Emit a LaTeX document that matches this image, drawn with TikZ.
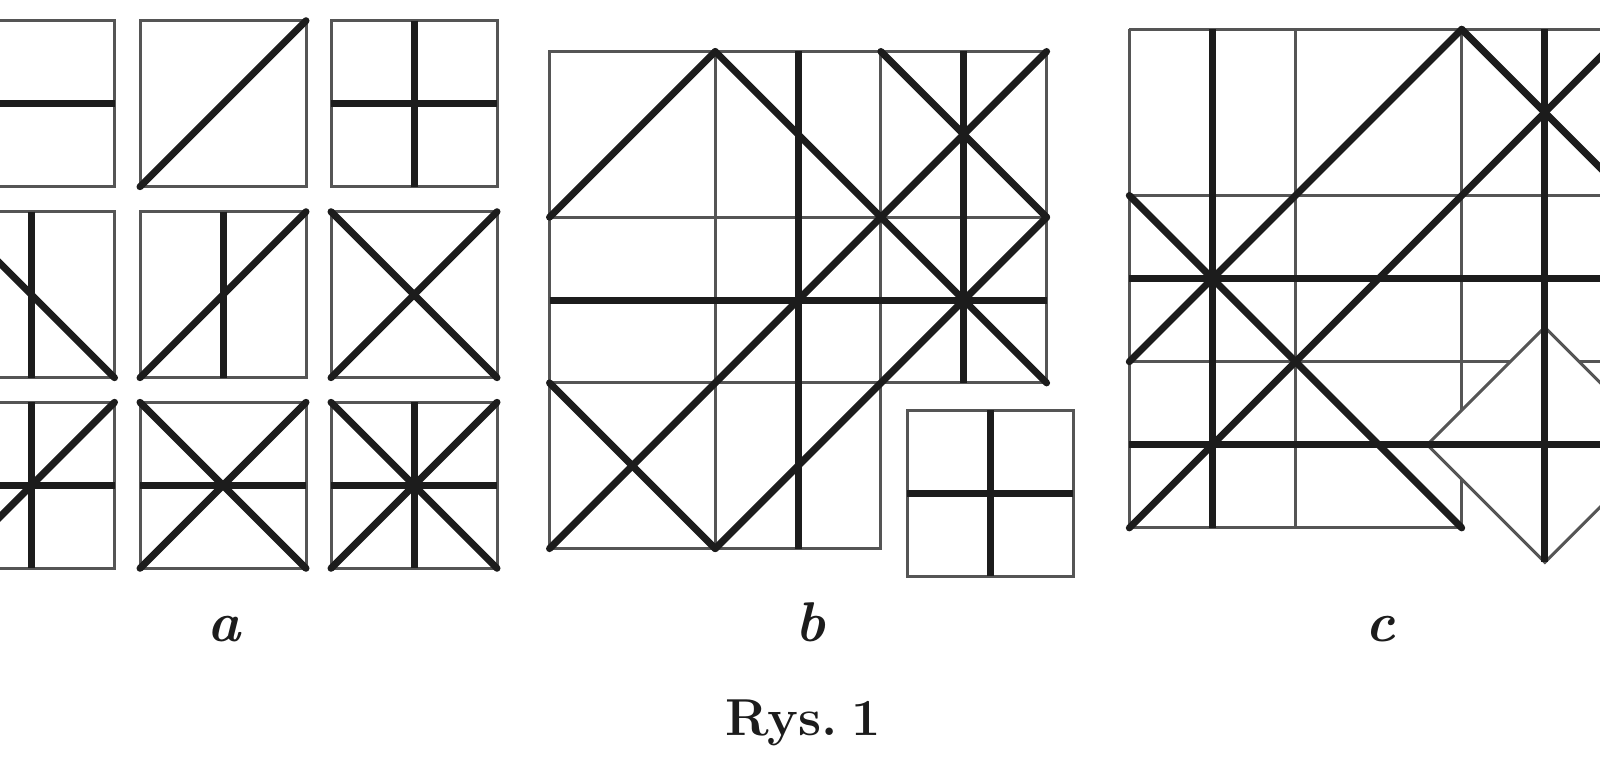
\documentclass[tikz,border=0pt]{standalone}
\usepackage{tikz}
\definecolor{gridgrey}{HTML}{555555}
\definecolor{ink}{HTML}{1C1C1C}
\tikzset{
  gline/.style={draw=gridgrey, line width=3pt},
  tline/.style={draw=ink, line width=7pt},
  dline/.style={draw=ink, line width=7pt, line cap=round},
  lab/.style={font=\fontsize{56}{60}\selectfont\bfseries\itshape, text=ink, anchor=base, inner sep=0pt},
  capt/.style={font=\fontsize{52}{56}\selectfont\bfseries, text=ink, anchor=base, inner sep=0pt},
}
\begin{document}
\begin{tikzpicture}[x=1pt,y=-1pt]
\useasboundingbox (0,0) rectangle (1600,768);
\clip (0,0) rectangle (1600,768);

% ---------------- part a ----------------
% row 1
\begin{scope}[shift={(-51.5pt,-20.7pt)}, x=166pt, y=-166pt]
  \draw[gline] (0,0) rectangle (1,1);
  \draw[tline] (0,0.5) -- (1,0.5);
\end{scope}
\begin{scope}[shift={(140pt,-20.7pt)}, x=166pt, y=-166pt]
  \draw[gline] (0,0) rectangle (1,1);
  \draw[dline] (0,1) -- (1,0);
\end{scope}
\begin{scope}[shift={(331pt,-20.7pt)}, x=166pt, y=-166pt]
  \draw[gline] (0,0) rectangle (1,1);
  \draw[tline] (0,0.5) -- (1,0.5);
  \draw[tline] (0.5,0) -- (0.5,1);
\end{scope}
% row 2
\begin{scope}[shift={(-51.5pt,-211.7pt)}, x=166pt, y=-166pt]
  \draw[gline] (0,0) rectangle (1,1);
  \draw[tline] (0.5,0) -- (0.5,1);
  \draw[dline] (0,0) -- (1,1);
\end{scope}
\begin{scope}[shift={(140pt,-211.7pt)}, x=166pt, y=-166pt]
  \draw[gline] (0,0) rectangle (1,1);
  \draw[tline] (0.5,0) -- (0.5,1);
  \draw[dline] (0,1) -- (1,0);
\end{scope}
\begin{scope}[shift={(331pt,-211.7pt)}, x=166pt, y=-166pt]
  \draw[gline] (0,0) rectangle (1,1);
  \draw[dline] (0,1) -- (1,0);
  \draw[dline] (0,0) -- (1,1);
\end{scope}
% row 3
\begin{scope}[shift={(-51.5pt,-402.3pt)}, x=166pt, y=-166pt]
  \draw[gline] (0,0) rectangle (1,1);
  \draw[tline] (0.5,0) -- (0.5,1);
  \draw[tline] (0,0.5) -- (1,0.5);
  \draw[dline] (0,1) -- (1,0);
\end{scope}
\begin{scope}[shift={(140pt,-402.3pt)}, x=166pt, y=-166pt]
  \draw[gline] (0,0) rectangle (1,1);
  \draw[tline] (0,0.5) -- (1,0.5);
  \draw[dline] (0,1) -- (1,0);
  \draw[dline] (0,0) -- (1,1);
\end{scope}
\begin{scope}[shift={(331pt,-402.3pt)}, x=166pt, y=-166pt]
  \draw[gline] (0,0) rectangle (1,1);
  \draw[tline] (0.5,0) -- (0.5,1);
  \draw[tline] (0,0.5) -- (1,0.5);
  \draw[dline] (0,1) -- (1,0);
  \draw[dline] (0,0) -- (1,1);
\end{scope}

% ---------------- part b ----------------
\begin{scope}[shift={(549.5pt,-51.5pt)}, x=165.7pt, y=-165.7pt]
  \foreach \u in {0,1,2} \foreach \v in {0,1} \draw[gline] (\u,\v) rectangle ++(1,1);
  \foreach \u in {0,1} \draw[gline] (\u,2) rectangle ++(1,1);
  \draw[tline] (1.5,0) -- (1.5,3);
  \draw[tline] (2.5,0) -- (2.5,2);
  \draw[tline] (0,1.5) -- (3,1.5);
  \draw[dline] (0,1) -- (1,0);
  \draw[dline] (1,0) -- (3,2);
  \draw[dline] (2,0) -- (3,1);
  \draw[dline] (3,0) -- (0,3);
  \draw[dline] (3,1) -- (1,3);
  \draw[dline] (0,2) -- (1,3);
\end{scope}
\begin{scope}[shift={(907pt,-410pt)}, x=166pt, y=-166pt]
  \draw[gline] (0,0) rectangle (1,1);
  \draw[tline] (0.5,0) -- (0.5,1);
  \draw[tline] (0,0.5) -- (1,0.5);
\end{scope}

% ---------------- part c ----------------
\begin{scope}[shift={(1129.3pt,-29.3pt)}, x=166.2pt, y=-166.2pt]
  \draw[gline] (0,0) -- (4,0);
  \draw[gline] (0,1) -- (4,1);
  \draw[gline] (0,2) -- (4,2);
  \draw[gline] (0,3) -- (2,3);
  \draw[gline] (0,0) -- (0,3);
  \draw[gline] (1,0) -- (1,3);
  \draw[gline] (2,0) -- (2,3);
  \draw[gline] (3,0) -- (3,2);
  \draw[gline, fill=white] (2.5-0.7071,2.5) -- (2.5,2.5-0.7071) -- (2.5+0.7071,2.5) -- (2.5,2.5+0.7071) -- cycle;
  \draw[tline] (0.5,0) -- (0.5,3);
  \draw[tline] (2.5,0) -- (2.5,2.5+0.7071);
  \draw[tline] (0,1.5) -- (4,1.5);
  \draw[tline] (0,2.5) -- (4,2.5);
  \draw[dline] (0,3) -- (3,0);
  \draw[dline] (0,2) -- (2,0);
  \draw[dline] (0,1) -- (2,3);
  \draw[dline] (2,0) -- (3.5,1.5);
\end{scope}

% ---------------- labels ----------------
\node[lab] (la) at (224,641.7) {a};
\node[lab] (lb) at (810,641.7) {b};
\node[lab] (lc) at (1380,641.7) {c};
\node[capt] (cap) at (803,735) {Rys.\hspace{0.25em}1};
\end{tikzpicture}
\end{document}
